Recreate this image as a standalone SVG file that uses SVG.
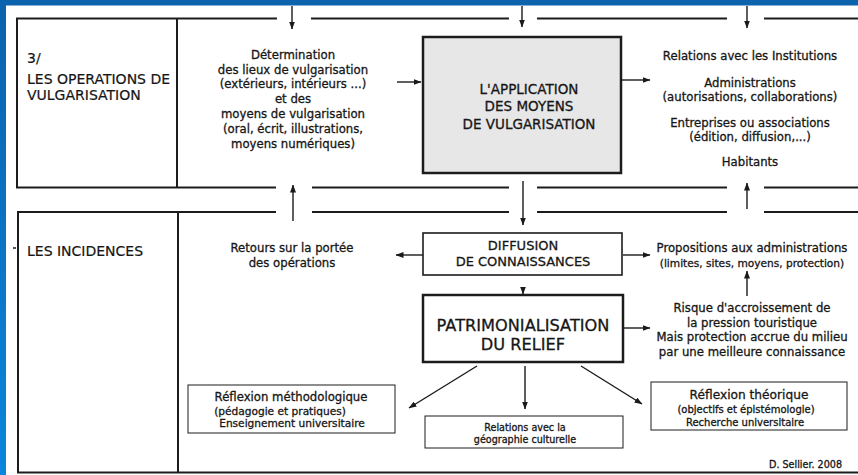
<svg xmlns="http://www.w3.org/2000/svg" width="858" height="475" viewBox="0 0 858 475">
  <defs>
    <linearGradient id="frameBlue" x1="0" y1="0" x2="0" y2="1">
      <stop offset="0" stop-color="#0b62ad"/>
      <stop offset="1" stop-color="#0a86dc"/>
    </linearGradient>
    <marker id="head" viewBox="0 0 8 6" refX="7.5" refY="3" markerWidth="8" markerHeight="6" markerUnits="userSpaceOnUse" orient="auto">
      <path d="M0,0 L8,3 L0,6 Z" fill="#1a1a1a"/>
    </marker>
    <style>
      text { font-family: "DejaVu Sans", "Liberation Sans", sans-serif; fill: #161616; stroke: #161616; stroke-width: 0.3; text-anchor: middle; }
      .lbl { text-anchor: start; font-size: 14px; stroke-width: 0.2; }
      .body { font-size: 11.7px; }
      .small { font-size: 10.6px; }
      .tiny { font-size: 9.6px; }
      .frame { stroke: #1c1c1c; stroke-width: 2; fill: none; }
      .box { stroke: #1c1c1c; fill: #fff; }
      .arrow { stroke: #1a1a1a; stroke-width: 1.4; fill: none; marker-end: url(#head); }
    </style>
  </defs>

  <rect width="858" height="475" fill="#ffffff"/>
  <!-- blue border strips -->
  <rect x="0" y="0" width="858" height="5.5" fill="#0b62ad"/>
  <rect x="0" y="0" width="6" height="475" fill="url(#frameBlue)"/>

  <!-- section frames -->
  <g id="frames" class="frame">
    <path d="M16,18.5 H277 M311,18.5 H509 M537,18.5 H727 M764,18.5 H858"/>
    <path d="M17,18 V188 M177,18 V188"/>
    <path d="M16,187.5 H276 M312,187.5 H509 M537,187.5 H727 M764,187.5 H858"/>
    <path d="M17,212 H276 M312,212 H509 M537,212 H727 M764,212 H858"/>
    <path d="M18,211 V473 M178,211 V473"/>
    <path d="M17,472.5 H858"/>
    <path d="M13,248 H16" stroke-width="1.5"/>
  </g>

  <!-- connectors -->
  <g id="connectors">
    <line class="arrow" x1="292" y1="6" x2="292" y2="29"/>
    <line class="arrow" x1="522" y1="6" x2="522" y2="27"/>
    <line class="arrow" x1="747" y1="6" x2="747" y2="28"/>
    <line class="arrow" x1="293" y1="221" x2="293" y2="185"/>
    <line class="arrow" x1="523" y1="181" x2="523" y2="225"/>
    <line class="arrow" x1="747" y1="209" x2="747" y2="183"/>
    <line class="arrow" x1="397" y1="82" x2="421" y2="82"/>
    <line class="arrow" x1="622" y1="80" x2="650" y2="80"/>
    <line class="arrow" x1="423" y1="255" x2="396" y2="255"/>
    <line class="arrow" x1="623" y1="255" x2="650" y2="255"/>
    <line class="arrow" x1="523" y1="287" x2="523" y2="294"/>
    <line class="arrow" x1="747" y1="296" x2="747" y2="271"/>
    <line class="arrow" x1="624" y1="328" x2="650" y2="328"/>
    <line class="arrow" x1="477" y1="366" x2="409" y2="408"/>
    <line class="arrow" x1="525" y1="366" x2="525" y2="409"/>
    <line class="arrow" x1="581" y1="366" x2="642" y2="404"/>
  </g>

  <!-- row headings -->
  <g id="heading-operations">
    <text class="lbl" x="27" y="63">3/</text>
    <text class="lbl" x="27" y="84">LES OPERATIONS DE</text>
    <text class="lbl" x="27" y="100">VULGARISATION</text>
  </g>
  <g id="heading-incidences">
    <text class="lbl" x="27" y="256">LES INCIDENCES</text>
  </g>

  <g id="determination">
    <text class="body" x="293" y="59">Détermination</text>
    <text class="body" x="293" y="74">des lieux de vulgarisation</text>
    <text class="body" x="293" y="88">(extérieurs, intérieurs ...)</text>
    <text class="body" x="293" y="103">et des</text>
    <text class="body" x="293" y="118">moyens de vulgarisation</text>
    <text class="body" x="293" y="133">(oral, écrit, illustrations,</text>
    <text class="body" x="293" y="148">moyens numériques)</text>
  </g>

  <g id="application">
    <rect class="box" x="423" y="37" width="198" height="136" style="fill:#e7e7e7" stroke-width="2.5"/>
    <text x="529" y="94" font-size="13.5">L'APPLICATION</text>
    <text x="529" y="111" font-size="13.5">DES MOYENS</text>
    <text x="529" y="129" font-size="13.5">DE VULGARISATION</text>
  </g>

  <g id="relations-institutions">
    <text class="body" x="750" y="60">Relations avec les Institutions</text>
    <text class="body" x="750" y="87">Administrations</text>
    <text class="body" x="750" y="101">(autorisations, collaborations)</text>
    <text class="body" x="750" y="127">Entreprises ou associations</text>
    <text class="body" x="750" y="141">(édition, diffusion,...)</text>
    <text class="body" x="750" y="166">Habitants</text>
  </g>

  <g id="retours">
    <text class="body" x="292" y="252">Retours sur la portée</text>
    <text class="body" x="292" y="267">des opérations</text>
  </g>

  <g id="diffusion">
    <rect class="box" x="423" y="233" width="199" height="42" stroke-width="1.6"/>
    <text x="523" y="250" font-size="13">DIFFUSION</text>
    <text x="523" y="266" font-size="13">DE CONNAISSANCES</text>
  </g>

  <g id="propositions">
    <text class="body" x="752" y="252">Propositions aux administrations</text>
    <text class="small" x="752" y="267">(limites, sites, moyens, protection)</text>
  </g>

  <g id="patrimonialisation">
    <rect class="box" x="423" y="295" width="200" height="67" stroke-width="2.5"/>
    <text x="523" y="331" font-size="16.2">PATRIMONIALISATION</text>
    <text x="523" y="350" font-size="16.2">DU RELIEF</text>
  </g>

  <g id="risque">
    <text class="body" x="752" y="312">Risque d'accroissement de</text>
    <text class="body" x="752" y="327">la pression touristique</text>
    <text class="body" x="752" y="341">Mais protection accrue du milieu</text>
    <text class="body" x="752" y="356">par une meilleure connaissance</text>
  </g>

  <g id="reflexion-methodologique">
    <rect class="box" x="188" y="385" width="207" height="48" stroke-width="1"/>
    <text class="body" x="291" y="401">Réflexion méthodologique</text>
    <text class="small" x="280" y="414.5">(pédagogie et pratiques)</text>
    <text class="small" x="292" y="427">Enseignement universitaire</text>
  </g>

  <g id="geographie-culturelle">
    <rect class="box" x="425" y="416" width="198" height="32" stroke-width="1"/>
    <text class="tiny" x="525" y="431">Relations avec la</text>
    <text class="tiny" x="525" y="443">géographie culturelle</text>
  </g>

  <g id="reflexion-theorique">
    <rect class="box" x="651" y="382" width="196" height="48" stroke-width="1"/>
    <text x="749" y="399" font-size="12.2">Réflexion théorique</text>
    <text x="746" y="413" font-size="10">(objectifs et épistémologie)</text>
    <text x="745" y="425.5" font-size="10">Recherche universitaire</text>
  </g>

  <g id="credit">
    <text class="tiny" x="842" y="468" style="text-anchor:end">D. Sellier. 2008</text>
  </g>
</svg>
